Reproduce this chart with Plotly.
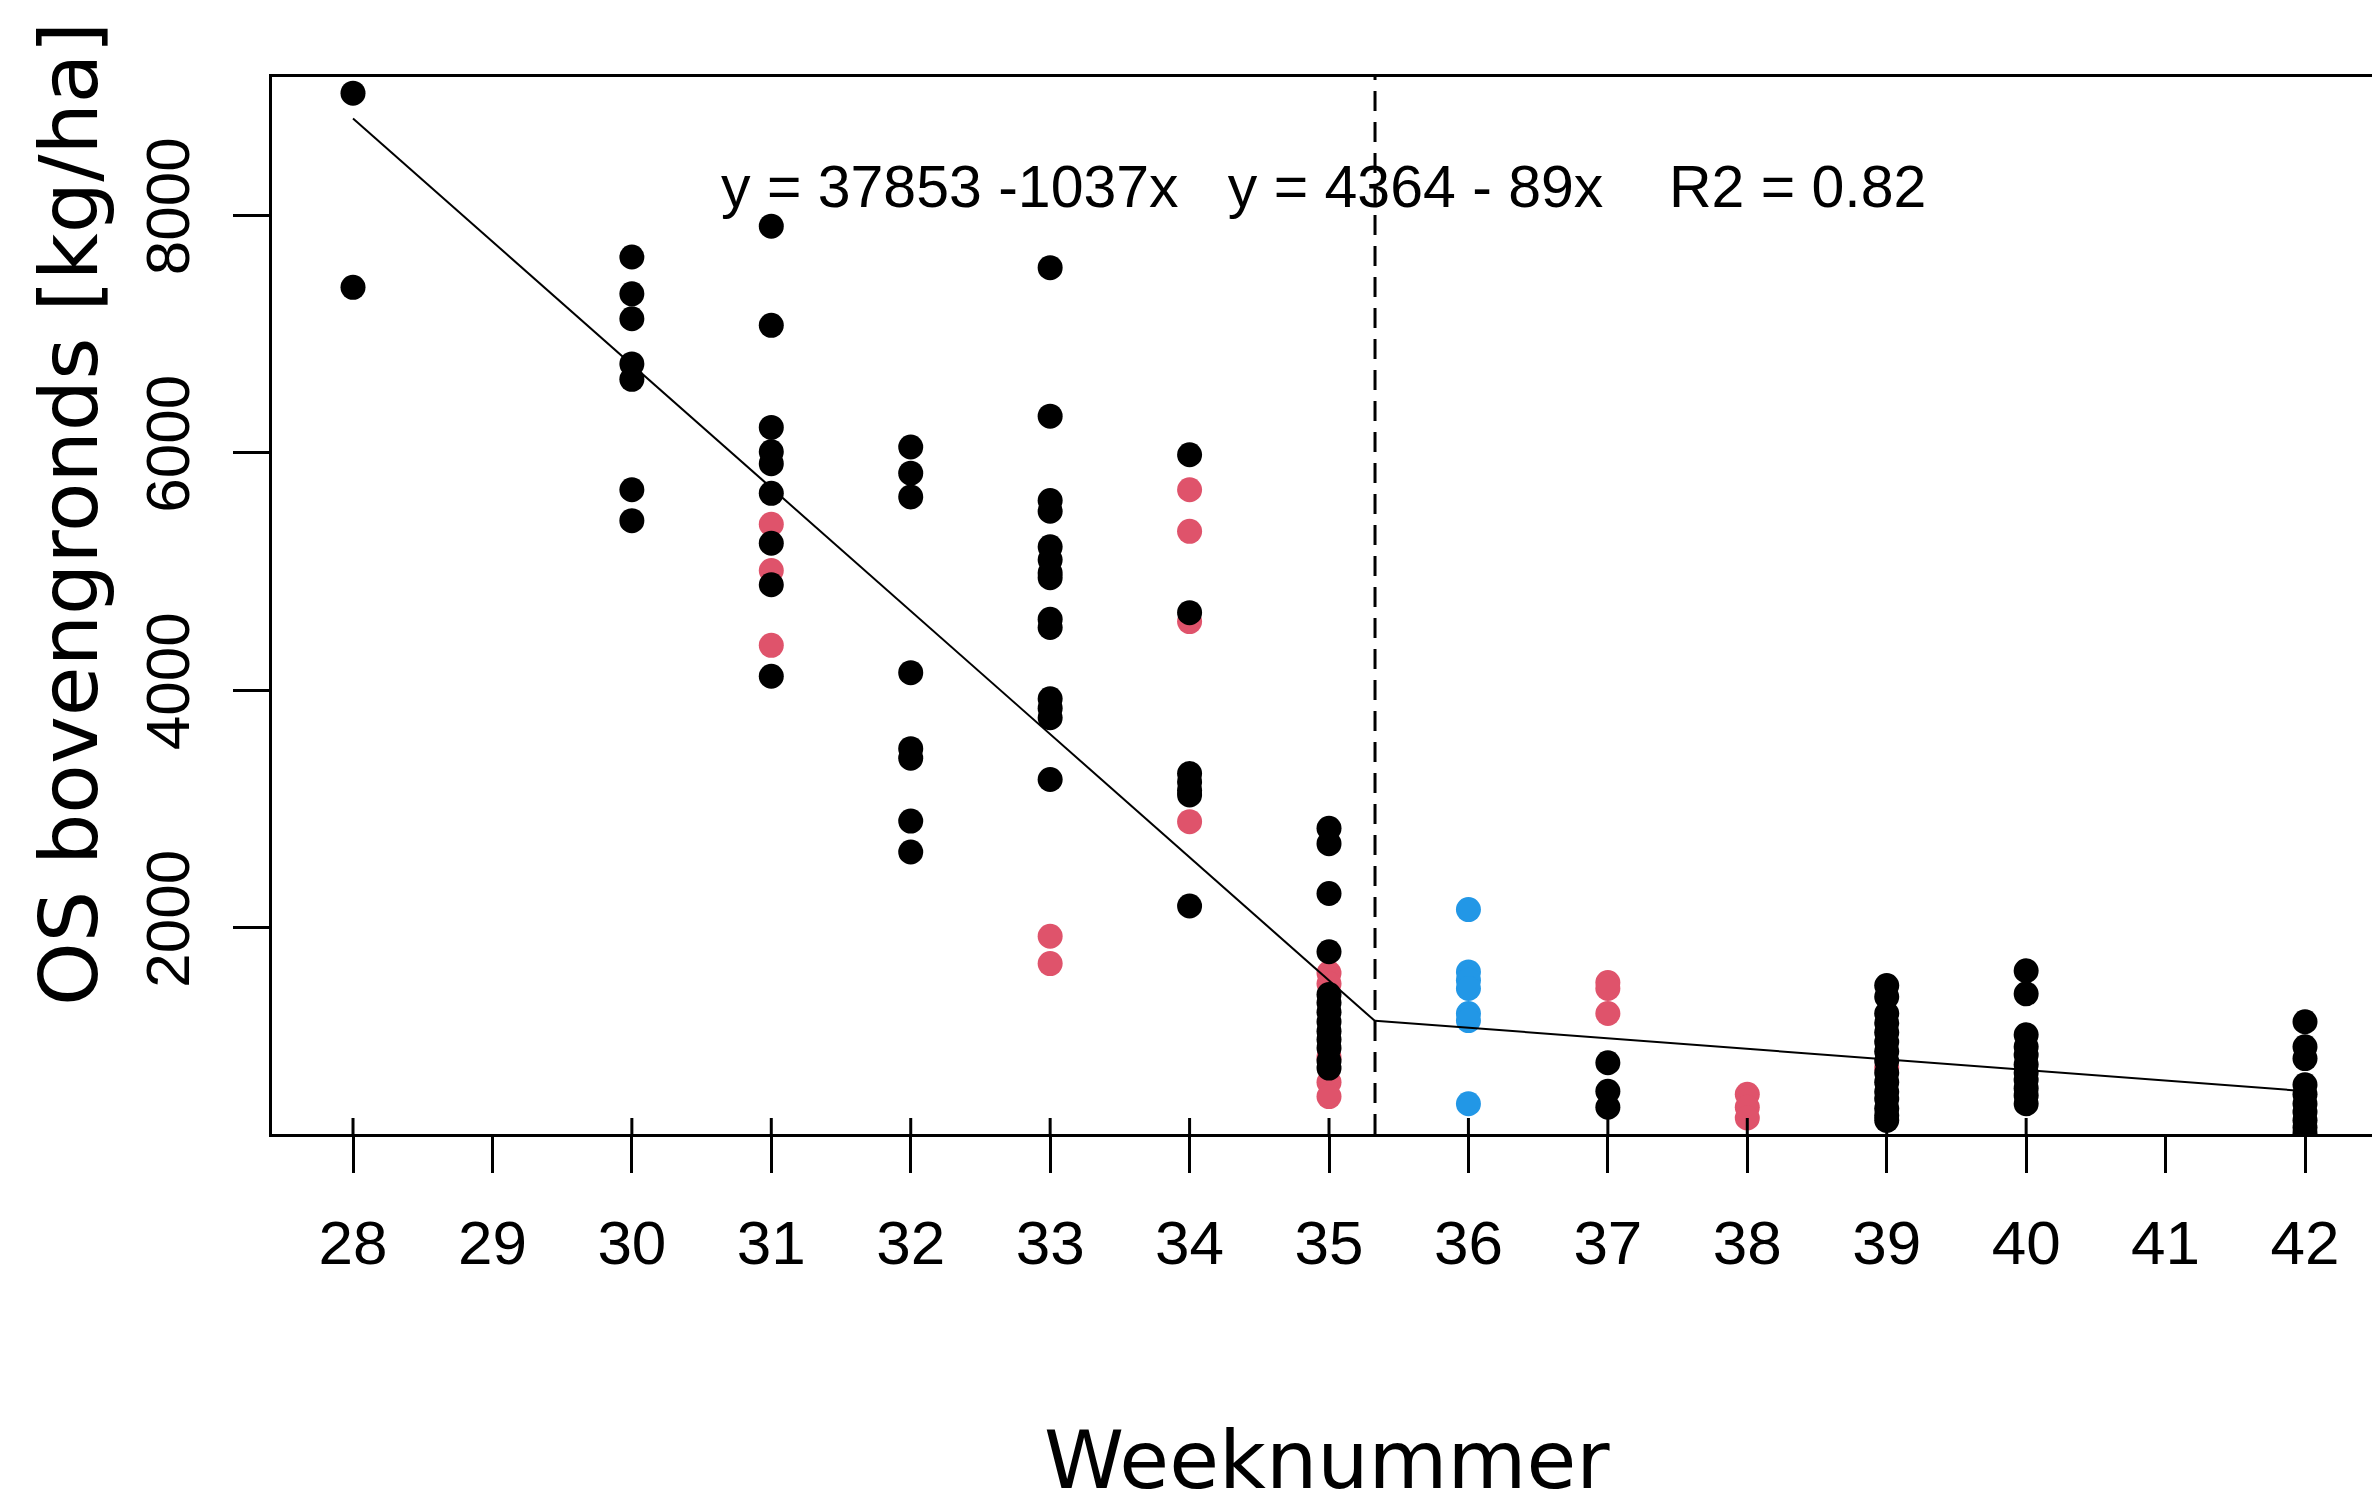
import plotly.graph_objects as go

# ---------------- data ----------------
weeks_axis = list(range(28, 43))
y_ticks = [2000, 4000, 6000, 8000]

# black points per week
black_w28 = [9030, 7395]
black_w30 = [7650, 7340, 7130, 6750, 6620, 5690, 5430]
black_w31 = [7910, 7075, 6215, 6010, 5910, 5660, 5240, 4890, 4120]
black_w32 = [6050, 5830, 5630, 4150, 3510, 3430, 2900, 2640]
black_w33 = [7560, 6310, 5600, 5510, 5210, 5100, 4990, 4950, 4600, 4530, 3930, 3850, 3770, 3250]
black_w34 = [5985, 4655, 3300, 3230, 3160, 3120, 2185]
black_w35 = [2840, 2710, 2290, 1800, 1440, 1370, 1290, 1210, 1130, 1060, 990, 880, 820]
black_w37 = [865, 625, 490]
black_w39 = [1515, 1420, 1280, 1200, 1120, 1040, 960, 880, 780, 700, 620, 560, 480, 420, 380]
black_w40 = [1640, 1445, 1100, 1000, 930, 850, 780, 720, 650, 590, 520]
black_w42 = [1210, 1000, 900, 680, 600, 520, 450, 380, 320, 270]

# red points per week
red_w31 = [5400, 5010, 4380]
red_w33 = [1930, 1700]
red_w34 = [5690, 5340, 4580, 2895]
red_w35 = [1620, 1530, 910, 700, 580]
red_w37 = [1540, 1490, 1280]
red_w38 = [600, 490, 400]
red_w39 = [820]

# blue points per week
blue_w36 = [2155, 1630, 1560, 1490, 1280, 1220, 520]

# piecewise regression (from the printed equations)
intercepts = [37853, 4364]
slopes = [-1037, -89]
breakpoint = 35.33
fit_start, fit_end = 28, 42
eq_text = "y = 37853 -1037x\u00a0\u00a0\u00a0y = 4364 - 89x\u00a0\u00a0\u00a0\u00a0R2 = 0.82"

x_title = "Weeknummer"
y_title = "OS bovengronds [kg/ha]"

# ---------------- build ----------------
def stack(groups):
    xs, ys = [], []
    for w, vals in groups:
        xs += [w] * len(vals)
        ys += vals
    return xs, ys

black_groups = [(28, black_w28), (30, black_w30), (31, black_w31), (32, black_w32),
                (33, black_w33), (34, black_w34), (35, black_w35), (37, black_w37),
                (39, black_w39), (40, black_w40), (42, black_w42)]
red_groups = [(31, red_w31), (33, red_w33), (34, red_w34), (35, red_w35),
              (37, red_w37), (38, red_w38), (39, red_w39)]
blue_groups = [(36, blue_w36)]

bx, by = stack(black_groups)
rx, ry = stack(red_groups)
ux, uy = stack(blue_groups)

RED = "#DF536B"
BLUE = "#2297E6"
MS = 25

fig = go.Figure()
fig.add_trace(go.Scatter(x=rx, y=ry, mode="markers",
                         marker=dict(color=RED, size=MS, line=dict(width=0))))
fig.add_trace(go.Scatter(x=ux, y=uy, mode="markers",
                         marker=dict(color=BLUE, size=MS, line=dict(width=0))))
fig.add_trace(go.Scatter(x=bx, y=by, mode="markers",
                         marker=dict(color="black", size=MS, line=dict(width=0))))

# regression segments
seg_x = [[fit_start, breakpoint], [breakpoint, fit_end]]
for (a, b, xs) in zip(intercepts, slopes, seg_x):
    fig.add_trace(go.Scatter(x=xs, y=[a + b * v for v in xs], mode="lines",
                             line=dict(color="black", width=2)))

shapes = []
# dashed breakpoint line
shapes.append(dict(type="line", xref="x", yref="paper", x0=breakpoint, x1=breakpoint,
                   y0=0, y1=1, line=dict(color="black", width=3, dash="20px,11px")))
# rug at data weeks
data_weeks = sorted(set(bx + rx + ux))
for w in data_weeks:
    shapes.append(dict(type="line", xref="x", yref="paper", x0=w, x1=w,
                       y0=0, y1=16 / 1057, line=dict(color="black", width=3)))

fig.update_layout(
    width=2372, height=1510,
    margin=dict(l=272, r=0, t=77, b=376, pad=0),
    paper_bgcolor="white", plot_bgcolor="white",
    showlegend=False,
    shapes=shapes,
    xaxis=dict(range=[27.419, 42.4805], tickmode="array", tickvals=weeks_axis,
               ticktext=[str(w) for w in weeks_axis],
               showgrid=False, zeroline=False, showline=True, mirror=True,
               linecolor="black", linewidth=3,
               ticks="outside", ticklen=36, tickwidth=3, tickcolor="black",
               tickfont=dict(family="Liberation Sans", size=62, color="black"),
               ticklabelstandoff=17),
    yaxis=dict(range=[265, 9166], tickmode="array", tickvals=y_ticks,
               ticktext=[str(v) for v in y_ticks],
               showgrid=False, zeroline=False, showline=True, mirror=False,
               linecolor="black", linewidth=3,
               ticks="outside", ticklen=36, tickwidth=3, tickcolor="black",
               tickangle=-90,
               tickfont=dict(family="Liberation Sans", size=62, color="black"),
               ticklabelstandoff=19),
    annotations=[
        dict(text=eq_text, xref="paper", yref="paper", x=0.5007, y=0.8964,
             xanchor="center", yanchor="middle", showarrow=False,
             font=dict(family="Liberation Sans", size=59, color="black")),
        dict(text=x_title, xref="paper", yref="paper", x=0.5024, y=-0.3085,
             xanchor="center", yanchor="middle", showarrow=False,
             font=dict(family="DejaVu Sans", size=81, color="black")),
        dict(text=y_title, xref="paper", yref="paper", x=(69 - 272) / 2100, y=0.5866,
             xanchor="center", yanchor="middle", showarrow=False, textangle=-90,
             font=dict(family="DejaVu Sans", size=81, color="black")),
    ],
)

fig.write_html("out.html")
